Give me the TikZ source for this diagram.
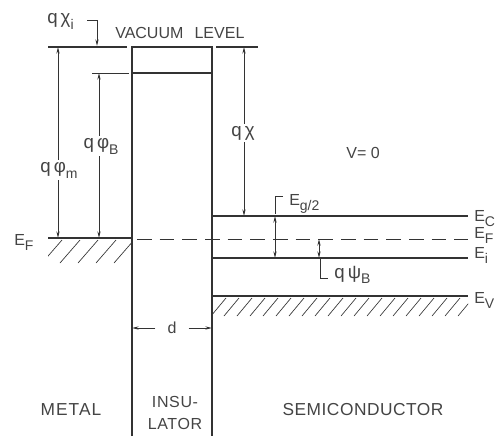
\documentclass[tikz,border=0pt]{standalone}
\usepackage{fontspec}
\setmainfont{Liberation Sans}
\usetikzlibrary{arrows.meta}
\definecolor{ink}{HTML}{333333}
\definecolor{txt}{HTML}{444444}
\newcommand{\mysub}[1]{\raisebox{-0.32em}{\fontsize{10.5}{10.5}\selectfont #1}}
\begin{document}
\begin{tikzpicture}[x=0.75pt,y=-0.75pt,
  ln/.style={draw=ink, line width=1pt},
  band/.style={draw=ink, line width=1.5pt},
  dim/.style={draw=ink, line width=0.6pt},
  hatch/.style={draw=ink, line width=0.5pt},
  tipone/.style={-{Stealth[length=5pt,width=2.4pt]}},
  tiptwo/.style={{Stealth[length=5pt,width=2.4pt]}-{Stealth[length=5pt,width=2.4pt]}},
  lbl/.style={text=txt, inner sep=0pt, font=\fontsize{12}{14}\selectfont},
  glbl/.style={text=txt, inner sep=1.5pt, fill=white, font=\fontsize{14}{16}\selectfont},
  region/.style={text=txt, inner sep=0pt, align=center, font=\fontsize{13}{15}\selectfont\addfontfeature{LetterSpace=6}},
]
\useasboundingbox (0,0) rectangle (498,436);

% key coordinates
\coordinate (vl0) at (48,47);  \coordinate (vl1) at (127,47);
\coordinate (vr0) at (216,47); \coordinate (vr1) at (258,47);
\coordinate (iTL) at (132,47); \coordinate (iTR) at (212,47);
\coordinate (iBL) at (132,436); \coordinate (iBR) at (212,436);
\coordinate (icb0) at (132,73); \coordinate (icb1) at (212,73);
\coordinate (ext0) at (92,73);  \coordinate (ext1) at (129,73);
\coordinate (efm0) at (48,238); \coordinate (efm1) at (132,238);
\coordinate (efs0) at (137,239); \coordinate (efs1) at (468,239);
\coordinate (ec0) at (212,216); \coordinate (ec1) at (468,216);
\coordinate (ei0) at (212,258); \coordinate (ei1) at (468,258);
\coordinate (ev0) at (212,296); \coordinate (ev1) at (468,296);

% vacuum level and insulator
\draw[ln] (vl0) -- (vl1);
\draw[ln] (vr0) -- (vr1);
\draw[ln] (iBL) -- (iTL) -- (iTR) -- (iBR);
\draw[ln] (icb0) -- (icb1);
\draw[dim] (ext0) -- (ext1);

% metal Fermi level + hatching
\draw[band] (efm0) -- (efm1);
\begin{scope}
  \clip (48,239) rectangle (132,264);
  \foreach \xt in {62,80,98,116,134,152} \draw[hatch] (\xt,240) -- (\xt-20,263);
\end{scope}

% semiconductor bands
\draw[band] (ec0) -- (ec1);
\draw[band] (ei0) -- (ei1);
\draw[band] (ev0) -- (ev1);
\draw[draw=ink, line width=0.7pt, dash pattern=on 11pt off 6pt] (efs0) -- (efs1);
\begin{scope}
  \clip (212,297) rectangle (468,318);
  \foreach \xt in {226,239,...,490} \draw[hatch] (\xt,298) -- (\xt-15,316);
\end{scope}

% labels top
\node[lbl, anchor=west] (vac) at (115,33) {VACUUM\hspace{0.7em}LEVEL};
\node[lbl, anchor=west, font=\fontsize{14}{16}\selectfont] (lchii) at (47,21) {q\,χ\mysub{i}};
\coordinate (chib0) at (87,20); \coordinate (chib1) at (97,20); \coordinate (chib2) at (97,46);
\draw[dim, tipone] (chib0) -- (chib1) -- (chib2);

% dimension arrows
\coordinate (pm0) at (58,47);  \coordinate (pm1) at (58,238);
\coordinate (pb0) at (99,73);  \coordinate (pb1) at (99,238);
\coordinate (px0) at (244,47); \coordinate (px1) at (244,216);
\draw[dim, tiptwo] (pm0) -- (pm1);
\draw[dim, tiptwo] (pb0) -- (pb1);
\draw[dim, tiptwo] (px0) -- (px1);
\node[glbl] (lphim) at (59,170) {q\,φ\mysub{m}};
\node[glbl] (lphib) at (101,146) {q\,φ\mysub{B}};
\node[glbl] (lchi) at (243,133) {q\,χ};

% Eg/2
\coordinate (eg0) at (283,196); \coordinate (eg1) at (275,196); \coordinate (eg2) at (275,214);
\draw[dim] (eg0) -- (eg1) -- (eg2);
\coordinate (ega) at (275,216); \coordinate (egb) at (275,258);
\draw[dim, tiptwo] (ega) -- (egb);
\node[lbl, anchor=base west] (leg) at (289,205) {E\mysub{g/2}};

% q psi B
\coordinate (ps0) at (319,239); \coordinate (ps1) at (319,258);
\draw[dim, tiptwo] (ps0) -- (ps1);
\coordinate (pq0) at (320,258); \coordinate (pq1) at (320,278); \coordinate (pq2) at (328,278);
\draw[dim] (pq0) -- (pq1) -- (pq2);
\node[lbl, anchor=base west, font=\fontsize{14}{16}\selectfont] (lpsi) at (334,278) {q\,ψ\mysub{B}};

% V = 0
\node[lbl] (lv) at (363,153) {V= 0};

% band labels on the right
\node[lbl, anchor=base west] (lec) at (474,221) {E\mysub{C}};
\node[lbl, anchor=base west] (lef) at (474,238) {E\mysub{F}};
\node[lbl, anchor=base west] (lei) at (474,258) {E\mysub{i}};
\node[lbl, anchor=base west] (lev) at (474,303) {E\mysub{V}};
\node[lbl, anchor=base west] (lefm) at (14,245) {E\mysub{F}};

% thickness d
\coordinate (dL) at (132,328); \coordinate (dR) at (212,328);
\node[lbl, inner xsep=9pt] (ld) at (172,328) {d};
\draw[dim, tipone] (ld.west) -- (dL);
\draw[dim, tipone] (ld.east) -- (dR);

% region names
\node[region] (lmetal) at (71,410) {METAL};
\node[region, font=\fontsize{12}{16.5}\selectfont\addfontfeature{LetterSpace=4}] (lins) at (175,413) {INSU-\\LATOR};
\node[region, font=\fontsize{13}{15}\selectfont\addfontfeature{LetterSpace=3}] (lsemi) at (363,410) {SEMICONDUCTOR};
\end{tikzpicture}
\end{document}
